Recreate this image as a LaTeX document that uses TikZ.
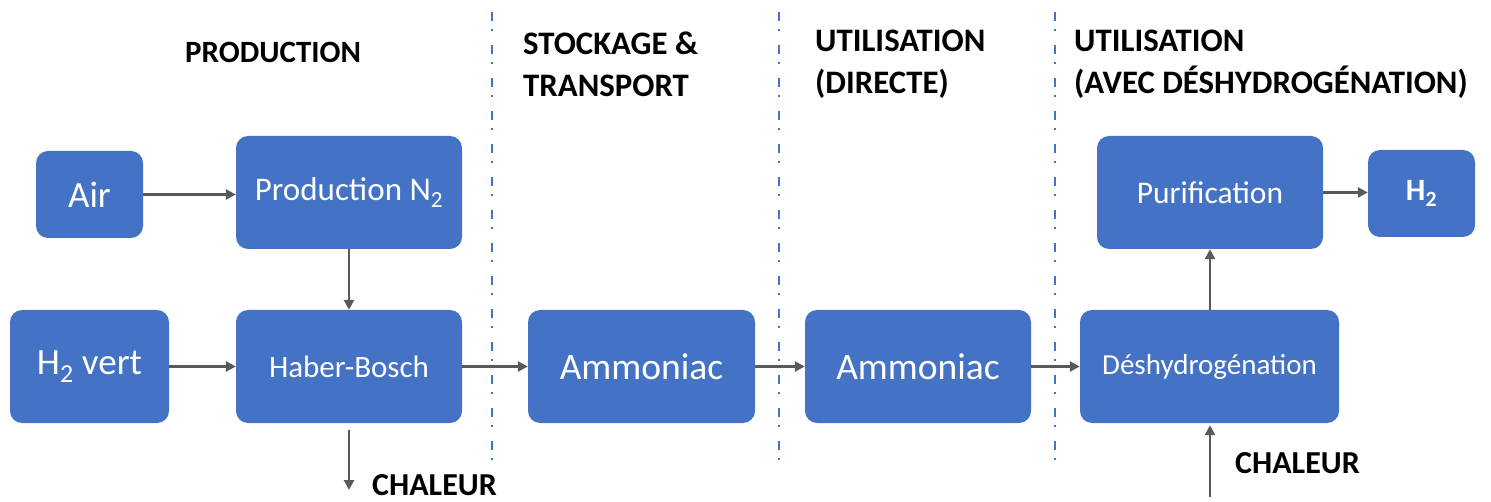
\documentclass[tikz,border=0pt]{standalone}
\usepackage{fontspec}
\setmainfont{Carlito}
\usetikzlibrary{arrows.meta}
\definecolor{boxblue}{HTML}{4472C4}
\definecolor{arrgray}{HTML}{595959}

\begin{document}
\begin{tikzpicture}[x=1pt,y=-1pt,
    box/.style={fill=boxblue,rounded corners=12pt,text=white,inner sep=0pt,
      font=\fontsize{33}{36}\selectfont},
    flow/.style={draw=arrgray,line width=2.5pt,-{Triangle[length=10pt,width=10pt]}},
    header/.style={anchor=west,align=left,inner sep=0pt,font=\bfseries\fontsize{32.8}{42}\selectfont},
    heat/.style={anchor=west,inner sep=0pt,font=\bfseries\fontsize{32}{34}\selectfont},
    divider/.style={draw=boxblue,line width=1.5pt,dash pattern=on 9pt off 8pt on 2pt off 14pt}]
    \useasboundingbox (0,0) rectangle (1491,502);
    % --- phase separators ---
    \foreach \xs in {492,779,1055}
      \draw[divider] (\xs,12) -- (\xs,460);
    % --- headers ---
    \node[header,font=\bfseries\fontsize{31}{34}\selectfont] (hprod) at (185,52) {PRODUCTION};
    \node[header] (hstock) at (523,64) {STOCKAGE \&\\TRANSPORT};
    \node[header] (hdirect) at (815,64) {UTILISATION\\(DIRECTE)};
    \node[header] (hdeshy) at (1074,64) {UTILISATION\\(AVEC DÉSHYDROGÉNATION)};
    % --- production ---
    \node[box,minimum width=107pt,minimum height=87pt,font=\fontsize{37}{40}\selectfont] (air) at (89.5,194.5) {Air};
    \node[box,minimum width=226pt,minimum height=113pt] (prodn) at (349,192.5) {Production N\textsubscript{2}};
    \node[box,minimum width=159pt,minimum height=113pt,font=\fontsize{37}{40}\selectfont] (hvert) at (89.5,366.5) {H\textsubscript{2} vert};
    \node[box,minimum width=226pt,minimum height=113pt,font=\fontsize{31}{34}\selectfont] (haber) at (349,366.5) {Haber-Bosch};
    % --- storage and use ---
    \node[box,minimum width=227pt,minimum height=113pt,font=\fontsize{37.5}{40}\selectfont] (amm1) at (641.5,366.5) {Ammoniac};
    \node[box,minimum width=226pt,minimum height=113pt,font=\fontsize{37.5}{40}\selectfont] (amm2) at (918,366.5) {Ammoniac};
    \node[box,minimum width=259pt,minimum height=113pt,font=\fontsize{29}{32}\selectfont] (desh) at (1209.5,366.5) {Déshydrogénation};
    \node[box,minimum width=226pt,minimum height=113pt,font=\fontsize{31.5}{34}\selectfont] (purif) at (1210,192.5) {Purification};
    \node[box,minimum width=107pt,minimum height=87pt,font=\bfseries\fontsize{31}{34}\selectfont] (htwo) at (1421.5,193.5) {H\textsubscript{2}};
    % --- heat ---
    \coordinate (heatout) at (349,490);
    \coordinate (heatin) at (1210,497);
    \node[heat] (chal1) at (372,485) {CHALEUR};
    \node[heat] (chal2) at (1235,463) {CHALEUR};
    % --- flows ---
    \draw[flow] (air.east) -- (air.east -| prodn.west);
    \draw[flow] (prodn) -- (haber);
    \draw[flow] (hvert) -- (haber);
    \draw[flow] (haber) -- (amm1);
    \draw[flow] (amm1) -- (amm2);
    \draw[flow] (amm2) -- (desh);
    \draw[flow] (desh.north -| purif.south) -- (purif.south);
    \draw[flow] (purif) -- (purif -| htwo.west);
    \draw[flow,shorten <=7pt] (haber.south) -- (heatout);
    \draw[flow,shorten >=2pt] (heatin) -- (heatin |- desh.south);
\end{tikzpicture}
\end{document}
